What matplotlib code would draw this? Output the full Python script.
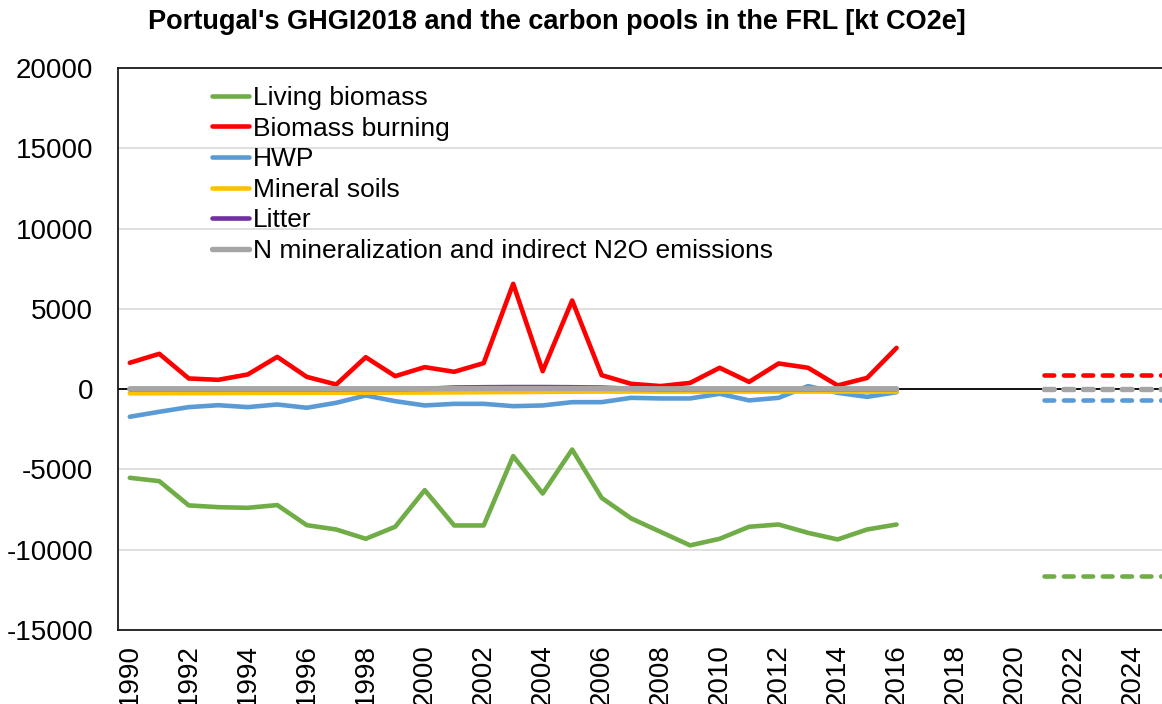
import numpy as np
import matplotlib
matplotlib.use("Agg")
import matplotlib.pyplot as plt

plt.rcParams['font.family'] = ['Liberation Sans', 'DejaVu Sans']
plt.rcParams['axes.unicode_minus'] = False
plt.rcParams['lines.scale_dashes'] = False

# GHGI2018 series, 1990-2016 [kt CO2e]
years = list(range(1990, 2017))
living_biomass = [-5520, -5730, -7240, -7350, -7390, -7220, -8470, -8740, -9320, -8570,
                  -6290, -8490, -8490, -4170, -6500, -3760, -6770, -8050, -8890, -9730,
                  -9320, -8570, -8430, -8950, -9360, -8740, -8430]
biomass_burning = [1640, 2200, 665, 580, 915, 2010, 765, 290, 1990, 810,
                   1370, 1080, 1620, 6560, 1120, 5520, 870, 330, 190, 390,
                   1330, 450, 1600, 1330, 230, 700, 2570]
hwp = [-1720, -1410, -1120, -1000, -1120, -955, -1160, -850, -395, -750,
       -1015, -915, -915, -1060, -1015, -810, -810, -540, -580, -580,
       -290, -700, -540, 190, -230, -480, -190]
mineral_soils = [-260, -255, -250, -245, -240, -235, -230, -225, -220, -215,
                 -210, -200, -190, -180, -170, -160, -150, -150, -150, -150,
                 -150, -150, -150, -150, -150, -150, -150]
litter = [0, 0, 0, 0, 0, 0, 0, 0, 0, 0,
          20, 100, 120, 130, 130, 120, 100, 20, 0, 0,
          0, 0, 0, 0, 0, 0, 0]
n_mineralization = [20, 20, 20, 20, 20, 20, 20, 20, 20, 20,
                    20, 30, 40, 40, 40, 40, 40, 30, 20, 20,
                    20, 20, 20, 20, 20, 20, 20]

# FRL values, 2021-2025
frl_years = [2021, 2022, 2023, 2024, 2025]
frl_living_biomass = [-11640] * 5
frl_biomass_burning = [870] * 5
frl_hwp = [-660] * 5
frl_mineral_soils = [40] * 5
frl_litter = [0] * 5
frl_n_mineralization = [0] * 5

labels = ['Living biomass', 'Biomass burning', 'HWP', 'Mineral soils', 'Litter',
          'N mineralization and indirect N2O emissions']
colors = ['#70ad47', '#ff0000', '#5b9bd5', '#ffc000', '#7030a0', '#a5a5a5']
series = [living_biomass, biomass_burning, hwp, mineral_soils, litter, n_mineralization]
frl = [frl_living_biomass, frl_biomass_burning, frl_hwp, frl_mineral_soils,
       frl_litter, frl_n_mineralization]

W, H = 1162, 704
fig = plt.figure(figsize=(W / 100, H / 100), dpi=100)
ax = fig.add_axes([118 / W, (H - 630) / H, (W - 118) / W, (630 - 68) / H])

ax.set_ylim(-15000, 20000)
ax.set_xlim(1989.6, 2025.0)
ax.set_yticks(np.arange(-15000, 20001, 5000))
ax.set_xticks(range(1990, 2025, 2))
ax.grid(axis='y', color='#d9d9d9', linewidth=1.2)
ax.set_axisbelow(True)
ax.axhline(0, color='black', linewidth=1.3, zorder=1.5)

for lab, c, s, f in zip(labels, colors, series, frl):
    lw = 3.9 if lab.startswith('N min') else 3.3
    ax.plot(years, s, color=c, linewidth=lw, label=lab,
            solid_capstyle='round', solid_joinstyle='round', zorder=3)
    # same dash pattern in points for every FRL line
    ax.plot(frl_years, f, color=c, linewidth=lw, linestyle=(0, (7.0, 7.0)),
            dash_capstyle='round', zorder=3)

for side in ['left', 'top', 'bottom']:
    ax.spines[side].set_color('#1a1a1a')
    ax.spines[side].set_linewidth(1.3)
ax.spines['right'].set_visible(False)

ax.tick_params(axis='both', length=0, labelsize=20, colors='black')
ax.tick_params(axis='y', pad=18)
ax.tick_params(axis='x', pad=10)
for t in ax.get_xticklabels():
    t.set_rotation(90)
    t.set_va('top')

ax.legend(loc='upper left', bbox_to_anchor=(212 / W, 1 - 86 / H),
          bbox_transform=fig.transFigure, frameon=False, fontsize=19,
          handlelength=1.4, handletextpad=0.15, labelspacing=0.25,
          borderpad=0, borderaxespad=0)

fig.text(557 / W, 1 - 22 / H, "Portugal's GHGI2018 and the carbon pools in the FRL [kt CO2e]",
         ha='center', va='center', fontsize=19.5, fontweight='bold')

fig.savefig('out.png', dpi=100)
